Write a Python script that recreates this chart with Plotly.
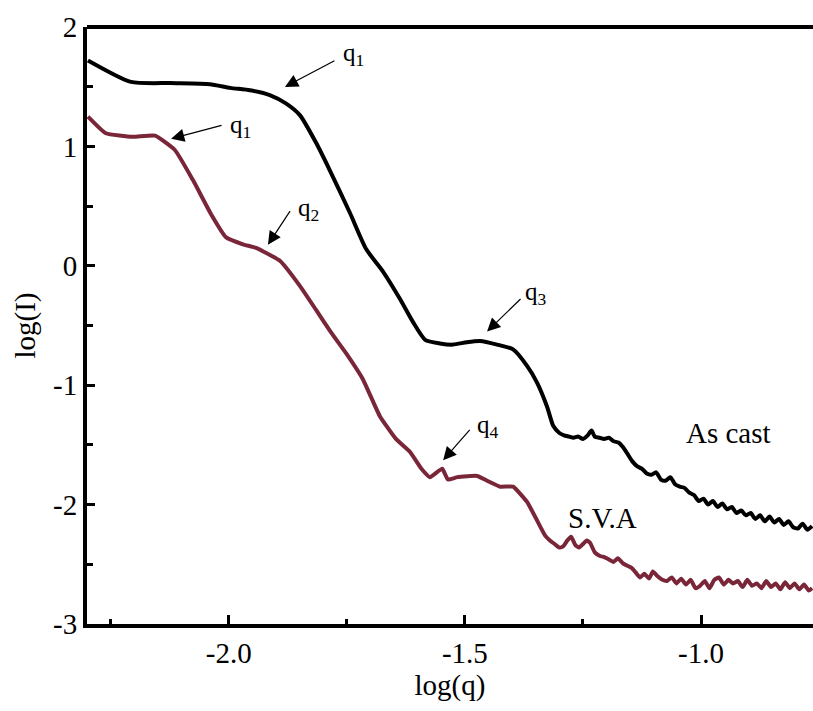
import plotly.graph_objects as go

# As cast curve
ascast_x = [-2.298, -2.207, -2.124, -2.040, -1.997, -1.955, -1.913, -1.879, -1.849, -1.815,
            -1.786, -1.743, -1.709, -1.673, -1.637, -1.610, -1.584, -1.553, -1.525, -1.496,
            -1.468, -1.432, -1.398, -1.368, -1.347, -1.326, -1.313,
            -1.300, -1.290, -1.280, -1.270, -1.260, -1.250, -1.240, -1.232, -1.225, -1.215,
            -1.205, -1.195, -1.185, -1.175, -1.165, -1.155, -1.145, -1.135, -1.125, -1.115,
            -1.105, -1.095, -1.085, -1.075, -1.065, -1.055, -1.045, -1.035, -1.025, -1.015,
            -1.005, -0.995, -0.985, -0.975, -0.965, -0.955, -0.945, -0.935, -0.925, -0.915,
            -0.905, -0.895, -0.885, -0.875, -0.865, -0.855, -0.845, -0.835, -0.825, -0.815,
            -0.805, -0.795, -0.785, -0.775, -0.765]
ascast_y = [1.72, 1.54, 1.53, 1.52, 1.49, 1.47, 1.43, 1.36, 1.26, 1.03,
            0.80, 0.44, 0.14, -0.05, -0.28, -0.47, -0.62, -0.65, -0.66, -0.64,
            -0.63, -0.66, -0.70, -0.84, -0.98, -1.18, -1.34,
            -1.40, -1.42, -1.43, -1.44, -1.43, -1.45, -1.42, -1.38, -1.43, -1.44,
            -1.45, -1.44, -1.47, -1.48, -1.52, -1.58, -1.64, -1.68, -1.70, -1.74,
            -1.75, -1.73, -1.79, -1.80, -1.77, -1.83, -1.85, -1.86, -1.90, -1.92,
            -1.97, -1.95, -2.00, -1.97, -2.02, -1.99, -2.04, -2.02, -2.07, -2.05,
            -2.09, -2.07, -2.12, -2.09, -2.14, -2.10, -2.15, -2.12, -2.17, -2.14,
            -2.19, -2.20, -2.16, -2.21, -2.18]

# S.V.A curve
sva_x = [-2.298, -2.260, -2.203, -2.156, -2.114, -2.076, -2.037, -2.006, -1.970, -1.942,
         -1.891, -1.849, -1.815, -1.783, -1.752, -1.716, -1.680, -1.646, -1.616, -1.592,
         -1.574, -1.548, -1.536, -1.516, -1.474, -1.453, -1.425, -1.398, -1.368,
         -1.341, -1.330, -1.320, -1.310, -1.300, -1.292, -1.283, -1.275, -1.266, -1.258,
         -1.250, -1.242, -1.235, -1.225, -1.214, -1.205, -1.195, -1.186, -1.176, -1.166,
         -1.157, -1.147, -1.138, -1.129, -1.120, -1.110, -1.102, -1.092, -1.082, -1.072,
         -1.062, -1.052, -1.042, -1.032, -1.022, -1.012, -1.002, -0.992, -0.982, -0.972,
         -0.962, -0.952, -0.942, -0.932, -0.922, -0.912, -0.902, -0.892, -0.882, -0.872,
         -0.862, -0.852, -0.842, -0.832, -0.822, -0.812, -0.802, -0.792, -0.782, -0.772,
         -0.765]
sva_y = [1.25, 1.11, 1.08, 1.09, 0.97, 0.72, 0.43, 0.24, 0.18, 0.15,
         0.04, -0.17, -0.37, -0.56, -0.73, -0.95, -1.26, -1.45, -1.56, -1.70,
         -1.77, -1.70, -1.79, -1.77, -1.76, -1.80, -1.85, -1.85, -1.98,
         -2.18, -2.26, -2.30, -2.33, -2.36, -2.35, -2.30, -2.27, -2.34, -2.36,
         -2.33, -2.30, -2.32, -2.40, -2.43, -2.44, -2.46, -2.48, -2.45, -2.49,
         -2.51, -2.53, -2.57, -2.61, -2.58, -2.62, -2.56, -2.60, -2.63, -2.64,
         -2.61, -2.66, -2.62, -2.67, -2.63, -2.70, -2.68, -2.64, -2.70, -2.63,
         -2.61, -2.67, -2.63, -2.66, -2.64, -2.69, -2.63, -2.68, -2.66, -2.70,
         -2.64, -2.69, -2.66, -2.71, -2.65, -2.70, -2.66, -2.71, -2.67, -2.72,
         -2.70]

x_ticks = [-2.0, -1.5, -1.0]
x_tick_labels = ["-2.0", "-1.5", "-1.0"]
y_ticks = [2, 1, 0, -1, -2, -3]
y_tick_labels = ["2", "1", "0", "-1", "-2", "-3"]

# arrow labels: (text, head_x, head_y, tail_x, tail_y, text_x, text_y)
arrow_labels = [
    ("q<sub>1</sub>", -1.881, 1.498, -1.773, 1.724, -1.735, 1.77),
    ("q<sub>1</sub>", -2.122, 1.064, -2.012, 1.180, -1.975, 1.17),
    ("q<sub>2</sub>", -1.917, 0.177, -1.868, 0.470, -1.832, 0.47),
    ("q<sub>3</sub>", -1.453, -0.550, -1.379, -0.266, -1.350, -0.23),
    ("q<sub>4</sub>", -1.546, -1.629, -1.487, -1.361, -1.452, -1.35),
]

FONT = "Liberation Serif, Times New Roman, serif"
RED = "#7a2639"

fig = go.Figure()
fig.add_trace(go.Scatter(x=ascast_x, y=ascast_y, mode="lines",
                         line=dict(color="black", width=4, shape="spline", smoothing=0.6),
                         showlegend=False))
fig.add_trace(go.Scatter(x=sva_x, y=sva_y, mode="lines",
                         line=dict(color=RED, width=4, shape="spline", smoothing=0.4),
                         showlegend=False))

annotations = []
for text, hx, hy, tx, ty, lx, ly in arrow_labels:
    annotations.append(dict(x=hx, y=hy, ax=tx, ay=ty, xref="x", yref="y",
                            axref="x", ayref="y", text="", showarrow=True,
                            arrowhead=2, arrowsize=2.2, arrowwidth=1.2,
                            arrowcolor="black", standoff=0, startstandoff=0))
    annotations.append(dict(x=lx, y=ly, xref="x", yref="y", text=text,
                            showarrow=False, font=dict(family=FONT, size=25, color="black")))

annotations.append(dict(x=-0.942, y=-1.40, xref="x", yref="y", text="As cast",
                        showarrow=False, font=dict(family=FONT, size=29, color="black")))
annotations.append(dict(x=-1.209, y=-2.11, xref="x", yref="y", text="S.V.A",
                        showarrow=False, font=dict(family=FONT, size=29, color="black")))

fig.update_layout(
    width=813, height=711,
    margin=dict(l=87, r=0, t=27, b=87),
    plot_bgcolor="white", paper_bgcolor="white",
    font=dict(family=FONT, size=29, color="black"),
    annotations=annotations,
    shapes=[dict(type="line", xref="paper", yref="paper", x0=0, x1=1, y0=1, y1=1,
                 line=dict(color="black", width=4))],
    xaxis=dict(range=[-2.3, -0.763], showgrid=False, zeroline=False, automargin=False,
               showline=True, linecolor="black", linewidth=4,
               ticks="inside", ticklen=9, tickwidth=3, tickcolor="black",
               tickvals=x_ticks, ticktext=x_tick_labels,
               minor=dict(ticks="inside", ticklen=5, tickwidth=3, tickcolor="black", dtick=0.25, tick0=-2.0),
               title=dict(text="log(q)", font=dict(family=FONT, size=29), standoff=6),
               tickfont=dict(family=FONT, size=29)),
    yaxis=dict(range=[-3, 2], showgrid=False, zeroline=False, automargin=False,
               showline=True, linecolor="black", linewidth=4,
               ticks="inside", ticklen=8, tickwidth=3, tickcolor="black",
               tickvals=y_ticks, ticktext=y_tick_labels,
               minor=dict(ticks="inside", ticklen=6, tickwidth=3, tickcolor="black", dtick=0.5, tick0=0),
               title=dict(text="log(I)", font=dict(family=FONT, size=29), standoff=10),
               tickfont=dict(family=FONT, size=29)),
)

fig.write_html("out.html", config={"displayModeBar": False},
               post_script="document.body.style.margin='0';document.body.style.padding='0';")
